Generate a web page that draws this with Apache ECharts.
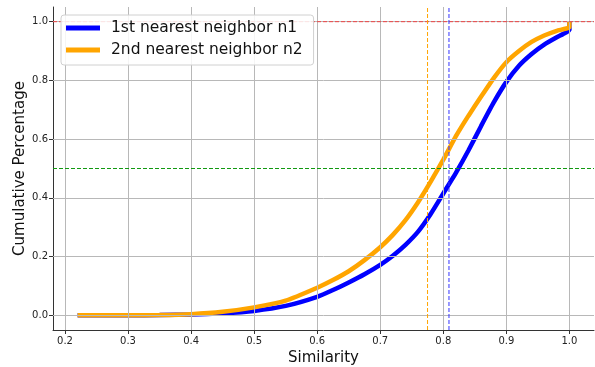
<!DOCTYPE html>
<html>
<head>
<meta charset="utf-8">
<script src="https://cdn.jsdelivr.net/npm/echarts@6/dist/echarts.min.js"></script>
<style>
  html, body { margin: 0; padding: 0; background: #fff; }
  #chart { width: 595px; height: 367px; }
</style>
</head>
<body>
<div id="chart"></div>
<script>
// similarity values (x) and cumulative share (y)
let n1X = [0.22, 0.30, 0.35, 0.40, 0.45, 0.50, 0.55, 0.60, 0.625, 0.65, 0.675, 0.70, 0.72, 0.74, 0.76, 0.78, 0.80, 0.82, 0.84, 0.86, 0.88, 0.90, 0.92, 0.94, 0.96, 0.98, 0.99, 1.0, 1.0]
let n1Y = [0, 0, 0.001, 0.003, 0.007, 0.015, 0.032, 0.063, 0.086, 0.112, 0.14, 0.172, 0.203, 0.24, 0.285, 0.345, 0.415, 0.485, 0.562, 0.645, 0.725, 0.795, 0.85, 0.89, 0.922, 0.947, 0.958, 0.972, 1.0]

let n2X = [0.22, 0.30, 0.35, 0.40, 0.45, 0.50, 0.55, 0.60, 0.625, 0.65, 0.675, 0.70, 0.72, 0.74, 0.76, 0.78, 0.80, 0.82, 0.84, 0.86, 0.88, 0.90, 0.92, 0.94, 0.96, 0.98, 1.0, 1.0]
let n2Y = [0, 0, 0.001, 0.004, 0.012, 0.027, 0.05, 0.094, 0.12, 0.15, 0.188, 0.232, 0.274, 0.324, 0.385, 0.455, 0.53, 0.61, 0.68, 0.745, 0.808, 0.862, 0.9, 0.931, 0.953, 0.969, 0.981, 1.0]

let xTicks = [0.2, 0.3, 0.4, 0.5, 0.6, 0.7, 0.8, 0.9, 1.0]
let yTicks = [0.0, 0.2, 0.4, 0.6, 0.8, 1.0]

// axis extents and reference lines
let xMin = 0.181
let xMax = 1.039
let yMin = -0.05
let yMax = 1.05
let meanN1 = 0.809
let meanN2 = 0.775
let topLine = 1.0
let halfLine = 0.5

const font = 'DejaVu Sans'

function pairs (xs, ys) {
  return xs.map((x, i) => [x, ys[i]])
}

// dashed straight line as its own series
function refLine (points, color) {
  return {
    type: 'line',
    data: points,
    silent: true,
    showSymbol: false,
    color: color,
    lineStyle: { color: color, width: 1, type: [4, 2] },
    emphasis: { disabled: true },
    z: 5
  }
}

let chart = echarts.init(document.getElementById('chart'))

let option = {
  animation: false,
  textStyle: { fontFamily: font },
  grid: { left: 53, right: 1, top: 7, bottom: 37, outerBoundsMode: 'none', containLabel: false },
  legend: {
    orient: 'vertical',
    left: 61,
    top: 15,
    padding: [5, 11, 7, 5],
    itemGap: 6,
    itemWidth: 34,
    itemHeight: 5,
    icon: 'rect',
    z: 10,
    backgroundColor: 'rgba(255,255,255,0.85)',
    borderColor: '#d0d0d0',
    borderWidth: 1,
    borderRadius: 3,
    textStyle: { fontFamily: font, fontSize: 15.5, color: '#111', padding: [0, 0, 0, 6] },
    data: ['1st nearest neighbor n1', '2nd nearest neighbor n2']
  },
  xAxis: {
    type: 'value',
    min: xMin,
    max: xMax,
    name: 'Similarity',
    nameLocation: 'middle',
    nameGap: 19,
    nameTextStyle: { fontFamily: font, fontSize: 15, color: '#111' },
    axisLine: { show: true, onZero: false, lineStyle: { color: '#333', width: 1 } },
    axisTick: { show: true, customValues: xTicks, length: 4, lineStyle: { color: '#333' } },
    axisLabel: {
      customValues: xTicks,
      fontFamily: font, fontSize: 10, color: '#222', margin: 6,
      formatter: v => v.toFixed(1)
    },
    splitLine: { show: false }
  },
  yAxis: {
    type: 'value',
    min: yMin,
    max: yMax,
    name: 'Cumulative Percentage',
    nameLocation: 'middle',
    nameGap: 25,
    nameMoveOverlap: false,
    nameTextStyle: { fontFamily: font, fontSize: 15, color: '#111' },
    axisLine: { show: true, onZero: false, lineStyle: { color: '#333', width: 1 } },
    axisTick: { show: true, customValues: yTicks, length: 4, lineStyle: { color: '#333' } },
    axisLabel: {
      customValues: yTicks,
      fontFamily: font, fontSize: 10, color: '#222', margin: 5,
      formatter: v => v.toFixed(1)
    },
    splitLine: { show: false }
  },
  series: [
    {
      // grid lines
      type: 'line',
      data: [],
      silent: true,
      markLine: {
        silent: true,
        symbol: 'none',
        label: { show: false },
        emphasis: { disabled: true },
        lineStyle: { color: '#b8b8b8', width: 1, type: 'solid' },
        data: xTicks.map(v => ({ xAxis: v })).concat(yTicks.map(v => ({ yAxis: v })))
      }
    },
    {
      name: '1st nearest neighbor n1',
      type: 'line',
      color: '#0000ff',
      showSymbol: false,
      smooth: 0.15,
      lineStyle: { width: 4.5, cap: 'butt' },
      data: pairs(n1X, n1Y),
      z: 3
    },
    {
      name: '2nd nearest neighbor n2',
      type: 'line',
      color: '#ffa500',
      showSymbol: false,
      smooth: 0.15,
      lineStyle: { width: 4.5, cap: 'butt' },
      data: pairs(n2X, n2Y),
      z: 4
    },
    refLine([[xMin, topLine], [xMax, topLine]], '#ee4444'),
    refLine([[xMin, halfLine], [xMax, halfLine]], '#119911'),
    refLine([[meanN2, yMin], [meanN2, yMax]], '#ffa500'),
    refLine([[meanN1, yMin], [meanN1, yMax]], '#3333ff')
  ]
}

chart.setOption(option)
</script>
</body>
</html>
